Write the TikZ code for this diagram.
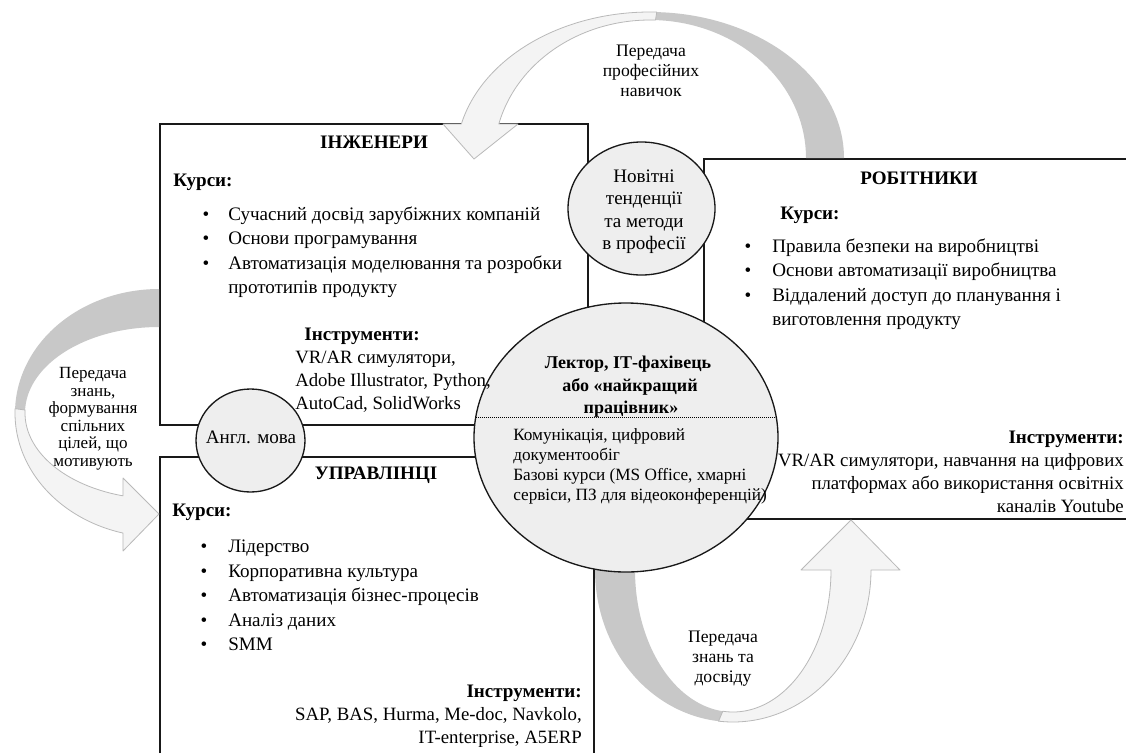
\documentclass[tikz,border=0pt]{standalone}
\usepackage{fontspec}
\setmainfont{Liberation Serif}
\usetikzlibrary{shapes.geometric,calc}
\begin{document}
\begin{tikzpicture}[x=0.75pt,y=-0.75pt,
  boxline/.style={draw=black!90, line width=1pt},
  bubble/.style={ellipse, draw=black!90, line width=1pt, fill=gray!13, inner sep=0pt},
  lightar/.style={fill=gray!9, draw=gray!55, line width=0.6pt, line join=round},
  darkar/.style={fill=gray!43},
  txt/.style={inner sep=0pt, font=\fontsize{14.3}{17}\selectfont},
  hd/.style={inner sep=0pt, font=\fontsize{14.3}{17}\selectfont\bfseries},
  tool/.style={inner sep=0pt, font=\fontsize{14.1}{16}\selectfont},
  lab/.style={inner sep=0pt, font=\fontsize{13.2}{15}\selectfont, anchor=base},
  llab/.style={inner sep=0pt, font=\fontsize{12.8}{14}\selectfont, anchor=base},
  small/.style={inner sep=0pt, font=\fontsize{12.9}{15}\selectfont, anchor=base west},
  bul/.style={inner sep=0pt, font=\fontsize{14.3}{17}\selectfont, anchor=base},
  dotline/.style={line width=0.5pt, dash pattern=on 0.8pt off 0.7pt}]
\useasboundingbox (0,0) rectangle (1126,753);
\fill[white] (0,0) rectangle (1126,753);

% boxes
\draw[boxline] (160,124) rectangle (588,425);
\draw[boxline] (1126,159) -- (704,159) -- (704,519) -- (1126,519);
\draw[boxline] (160,753) -- (160,457) -- (594,457) -- (594,753);

% top curved arrow
\fill[darkar] plot[domain=0:92,samples=50] ({650+194*cos(\x)},{158-146*sin(\x)})
  -- plot[domain=92:0,samples=50] ({650+156*cos(\x)},{158-138*sin(\x)}) -- cycle;
\filldraw[lightar] plot[domain=88:166.5,samples=60] ({650+194*cos(\x)},{158-146*sin(\x)})
  -- (443,124) -- (474,159) -- (518,124)
  -- plot[domain=165.7:88,samples=60] ({650+156*cos(\x)},{158-138*sin(\x)}) -- cycle;

% left curved arrow
\fill[darkar] plot[domain=90:182,samples=50] ({159+144*cos(\x)},{413-124*sin(\x)})
  -- plot[domain=182:90,samples=50] ({159+134*cos(\x)},{413-86*sin(\x)}) -- cycle;
\filldraw[lightar] plot[domain=178:255.5,samples=60] ({159+144*cos(\x)},{413-124*sin(\x)})
  -- (123,551) -- (159,514) -- (123,478)
  -- plot[domain=254.4:178,samples=60] ({159+134*cos(\x)},{413-86*sin(\x)}) -- cycle;

% bottom curved arrow
\fill[darkar] plot[domain=175:266,samples=50] ({733+138*cos(\x)},{570-152*sin(\x)})
  -- plot[domain=266:175,samples=50] ({733+98*cos(\x)},{570-142*sin(\x)}) -- cycle;
\filldraw[lightar] plot[domain=264:360,samples=60] ({733+138*cos(\x)},{570-152*sin(\x)})
  -- (900,570) -- (851,520) -- (801,570)
  -- plot[domain=360:264,samples=60] ({733+98*cos(\x)},{570-142*sin(\x)}) -- cycle;

% bubbles
\node[bubble, minimum width=110.25pt, minimum height=99.75pt] (nov) at (641.5,208.5) {};
\node[bubble, minimum width=81.75pt, minimum height=77.25pt] (eng) at (250.5,440.5) {};
\node[bubble, minimum width=228pt, minimum height=201.75pt] (lec) at (626,437.5) {};
\draw[dotline] ($(lec.center)+(-150.2,-20.5)$) -- ($(lec.center)+(150.2,-20.5)$);

% arrow labels
\node[lab] (ta1) at (651,56) {Передача};
\node[lab] (ta2) at (651,76) {професійних};
\node[lab] (ta3) at (651,96) {навичок};
\node[llab] (la1) at (93,378.5) {Передача};
\node[llab] (la2) at (93,396) {знань,};
\node[llab] (la3) at (93,413.5) {формування};
\node[llab] (la4) at (93,431) {спільних};
\node[llab] (la5) at (93,448.5) {цілей, що};
\node[llab] (la6) at (93,466.5) {мотивують};
\node[lab] (ba1) at (723,642.5) {Передача};
\node[lab] (ba2) at (723,662.5) {знань та};
\node[lab] (ba3) at (723,682.5) {досвіду};

% engineers
\node[hd, anchor=base] (engT) at (374,148) {ІНЖЕНЕРИ};
\node[hd, anchor=base west] (engK) at (173,186) {Курси:};
\node[bul] (eb1) at (206,220) {\textbullet};
\node[bul] (eb2) at (206,244.5) {\textbullet};
\node[bul] (eb3) at (206,269) {\textbullet};
\node[txt, anchor=base west] (e1) at (228,220) {Сучасний досвід зарубіжних компаній};
\node[txt, anchor=base west] (e2) at (228,244.5) {Основи програмування};
\node[txt, anchor=base west] (e3) at (228,269) {Автоматизація моделювання та розробки};
\node[txt, anchor=base west] (e4) at (228,293.5) {прототипів продукту};
\node[hd, anchor=base] (engI) at (362,340) {Інструменти:};
\node[tool, anchor=base west] (et1) at (295,363) {VR/AR симулятори,};
\node[tool, anchor=base west] (et2) at (295,386) {Adobe Illustrator, Python,};
\node[tool, anchor=base west] (et3) at (295,409) {AutoCad, SolidWorks};

% workers
\node[hd, anchor=base] (wrkT) at (919,184) {РОБІТНИКИ};
\node[hd, anchor=base west] (wrkK) at (780,219) {Курси:};
\node[bul] (wb1) at (748,252) {\textbullet};
\node[bul] (wb2) at (748,276.5) {\textbullet};
\node[bul] (wb3) at (748,301) {\textbullet};
\node[txt, anchor=base west] (w1) at (772,252) {Правила безпеки на виробництві};
\node[txt, anchor=base west] (w2) at (772,276.5) {Основи автоматизації виробництва};
\node[txt, anchor=base west] (w3) at (772,301) {Віддалений доступ до планування і};
\node[txt, anchor=base west] (w4) at (772,325.5) {виготовлення продукту};
\node[hd, anchor=base east] (wrkI) at (1124,443) {Інструменти:};
\node[tool, anchor=base east] (wt1) at (1124,466.5) {VR/AR симулятори, навчання на цифрових};
\node[tool, anchor=base east] (wt2) at (1124,489.5) {платформах або використання освітніх};
\node[tool, anchor=base east] (wt3) at (1124,512.5) {каналів Youtube};

% managers
\node[hd, anchor=base] (manT) at (376,479) {УПРАВЛІНЦІ};
\node[hd, anchor=base west] (manK) at (172,516) {Курси:};
\node[bul] (mb1) at (204,552) {\textbullet};
\node[bul] (mb2) at (204,577) {\textbullet};
\node[bul] (mb3) at (204,601.5) {\textbullet};
\node[bul] (mb4) at (204,626) {\textbullet};
\node[bul] (mb5) at (204,650.5) {\textbullet};
\node[txt, anchor=base west] (m1) at (228,552) {Лідерство};
\node[txt, anchor=base west] (m2) at (228,577) {Корпоративна культура};
\node[txt, anchor=base west] (m3) at (228,601.5) {Автоматизація бізнес-процесів};
\node[txt, anchor=base west] (m4) at (228,626) {Аналіз даних};
\node[txt, anchor=base west] (m5) at (228,650.5) {SMM};
\node[hd, anchor=base east] (manI) at (582,697) {Інструменти:};
\node[tool, anchor=base east] (mt1) at (582,720) {SAP, BAS, Hurma, Me-doc, Navkolo,};
\node[tool, anchor=base east] (mt2) at (582,743) {IT-enterprise, A5ERP};

% bubble texts
\node[txt, anchor=base] (n1) at (644,182) {Новітні};
\node[txt, anchor=base] (n2) at (644,204.5) {тенденції};
\node[txt, anchor=base] (n3) at (644,227) {та методи};
\node[txt, anchor=base] (n4) at (644,249.5) {в професії};
\node[txt, anchor=base] (a1) at (251,443) {Англ. мова};
\node[hd, font=\fontsize{13.5}{16}\selectfont\bfseries, anchor=base] (l1) at (628,368) {Лектор, ІТ-фахівець};
\node[hd, font=\fontsize{13.5}{16}\selectfont\bfseries, anchor=base] (l2) at (630,391) {або «найкращий};
\node[hd, font=\fontsize{13.5}{16}\selectfont\bfseries, anchor=base] (l3) at (631,413) {працівник»};
\node[small] (s1) at (513,440) {Комунікація, цифровий};
\node[small] (s2) at (513,460) {документообіг};
\node[small] (s3) at (513,480) {Базові курси (MS Office, хмарні};
\node[small] (s4) at (513,500) {сервіси, ПЗ для відеоконференцій)};
\end{tikzpicture}
\end{document}
